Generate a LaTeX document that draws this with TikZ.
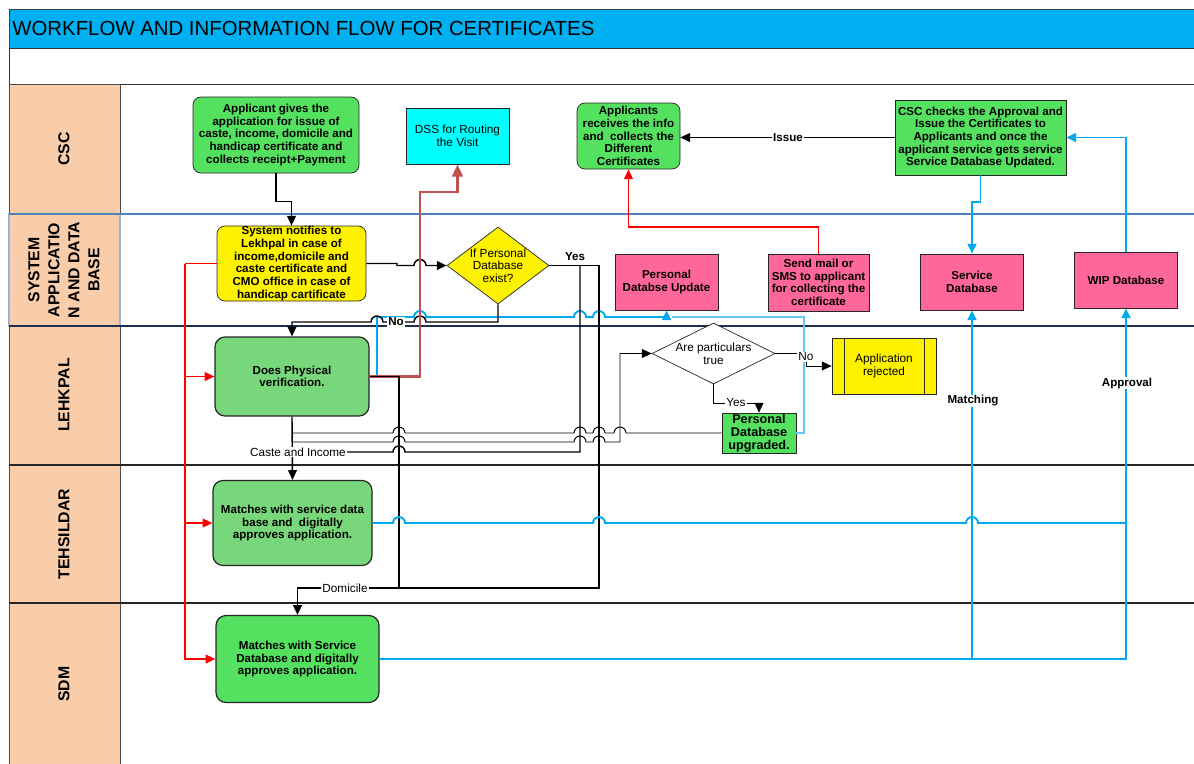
\documentclass[tikz,border=0pt]{standalone}
\usepackage{fontspec}
\setmainfont{Liberation Sans}
\usepackage{tikz}
\usetikzlibrary{shapes.geometric,arrows.meta,positioning}

\definecolor{titlecyan}{RGB}{0,176,240}
\definecolor{lanepeach}{RGB}{249,204,170}
\definecolor{brightgreen}{RGB}{84,225,96}
\definecolor{softgreen}{RGB}{121,215,123}
\definecolor{dbpink}{RGB}{255,102,153}
\definecolor{dsscyan}{RGB}{0,255,255}
\definecolor{flowcyan}{RGB}{0,170,240}
\definecolor{paleflow}{RGB}{100,200,245}
\definecolor{routered}{RGB}{192,80,77}
\definecolor{laneblue}{RGB}{79,129,189}
\definecolor{lanenavy}{RGB}{31,45,80}

\def \px {0.02cm}
\def \hr {0.12cm}
\newcommand{\boxfont}{\fontsize{6.6}{7.2}\selectfont\bfseries}
\newcommand{\plainfont}{\fontsize{6.7}{7.2}\selectfont}
\newcommand{\lanefont}{\fontsize{9}{11.4}\selectfont\bfseries}
\newcommand{\hopr}[2]{-- (#1-6,#2) arc[start angle=180,end angle=0,radius=\hr]}
\newcommand{\hopl}[2]{-- (#1+6,#2) arc[start angle=0,end angle=180,radius=\hr]}

\tikzstyle{box} = [draw=black!85,align=center,inner sep=0,font=\boxfont]
\tikzstyle{greenround} = [box,fill=brightgreen,rounded corners=.16cm]
\tikzstyle{softround} = [box,fill=softgreen,rounded corners=.2cm,line width=0.7pt]
\tikzstyle{greenrect} = [box,fill=brightgreen]
\tikzstyle{dbbox} = [box,fill=dbpink]
\tikzstyle{decision} = [draw=black!85,diamond,inner sep=0]
\tikzstyle{lanetext} = [rotate=90,align=center,font=\lanefont]
\tikzstyle{tip} = [-{Triangle[length=5.5pt,width=5pt]}]
\tikzstyle{flowline} = [tip,line width=0.8pt]
\tikzstyle{blackline} = [line width=0.8pt]
\tikzstyle{thinline} = [line width=0.55pt]
\tikzstyle{cyanline} = [draw=flowcyan,line width=1.1pt]
\tikzstyle{paleline} = [draw=paleflow,line width=0.8pt]
\tikzstyle{alertline} = [draw=red,line width=0.7pt]
\tikzstyle{routeline} = [draw=routered,line width=1.7pt]
\tikzstyle{tag} = [fill=white,inner sep=0.6pt,font=\plainfont]
\tikzstyle{boldtag} = [fill=white,inner sep=0.6pt,font=\boxfont]

\begin{document}
\begin{tikzpicture}[x=\px,y=-\px]
      \useasboundingbox (0,0) rectangle (1194,764);
      \draw[black!75,fill=titlecyan] (9,9) rectangle (1194,48);
      \node[anchor=west,inner sep=0,font=\fontsize{11.6}{14}\selectfont] (title) at (12,28.5) {WORKFLOW AND INFORMATION FLOW FOR CERTIFICATES};
      \draw[black!80] (9,48) rectangle (1194,84);
      \draw[black!70,fill=lanepeach] (9,84) rectangle (120,764);
      \draw[laneblue!60,line width=0.7pt] (9,214) rectangle (120,326);
      \draw[laneblue,line width=0.7pt] (9,214) -- (1194,214);
      \draw[lanenavy,line width=0.7pt] (9,326) -- (1194,326);
      \draw[black!85,line width=0.7pt] (9,465) -- (1194,465);
      \draw[black!85,line width=0.7pt] (9,603) -- (1194,603);
      \node[lanetext] (lcsc) at (64,149) {CSC};
      \node[lanetext] (lsys) at (64,270) {SYSTEM\\APPLICATIO\\N AND DATA\\BASE};
      \node[lanetext] (llek) at (64,395) {LEHKPAL};
      \node[lanetext] (lteh) at (64,534) {TEHSILDAR};
      \node[lanetext] (lsdm) at (64,684) {SDM};

      \node[greenround,minimum width=166*\px,minimum height=76*\px] (app) at (276,135) {Applicant gives the\\application for issue of\\caste, income, domicile and\\handicap certificate and\\collects receipt+Payment};
      \node[box,fill=dsscyan,font=\plainfont,minimum width=103*\px,minimum height=56*\px] (dss) at (457.5,136) {DSS for Routing\\the Visit};
      \node[greenround,minimum width=103*\px,minimum height=66*\px] (recv) at (628.5,136) {Applicants\\receives the info\\and\ \ collects the\\Different\\Certificates};
      \node[greenrect,minimum width=171*\px,minimum height=75*\px] (csck) at (980.5,137.5) {CSC checks the Approval and\\Issue the Certificates to\\Applicants and once the\\applicant service gets service\\Service Database Updated.};
      \node[box,fill=yellow,rounded corners=.16cm,minimum width=149*\px,minimum height=75*\px] (sysn) at (291.5,263.5) {System notifies to\\Lekhpal in case of\\income,domicile and\\caste certificate and\\CMO office in case of\\handicap cartificate};
      \node[decision,fill=yellow,minimum width=102*\px,minimum height=77*\px,label={[font=\plainfont,align=center]center:{If Personal\\Database\\exist?}}] (dec1) at (498,265.5) {};
      \node[dbbox,minimum width=103*\px,minimum height=56*\px] (pdu) at (666.5,282) {Personal\\Databse Update};
      \node[dbbox,minimum width=101*\px,minimum height=57*\px] (mail) at (818.5,282.5) {Send mail or\\SMS to applicant\\for collecting the\\certificate};
      \node[dbbox,minimum width=103*\px,minimum height=56*\px] (servdb) at (972,282) {Service\\Database};
      \node[dbbox,minimum width=103*\px,minimum height=56*\px] (wipdb) at (1126,280) {WIP Database};
      \node[softround,minimum width=154*\px,minimum height=79*\px] (phys) at (292,376.5) {Does Physical\\verification.};
      \node[decision,fill=white,minimum width=123*\px,minimum height=61*\px,label={[font=\plainfont,align=center]center:{Are particulars\\true}}] (dec2) at (713.5,353.5) {};
      \node[box,fill=yellow,font=\plainfont,minimum width=104*\px,minimum height=56*\px] (rej) at (884,366) {Application\\rejected};
      \draw[black!85] ([xshift=13*\px]rej.north west) -- ([xshift=13*\px]rej.south west);
      \draw[black!85] ([xshift=-12*\px]rej.north east) -- ([xshift=-12*\px]rej.south east);
      \node[greenrect,font=\fontsize{7.2}{7.3}\selectfont\bfseries,minimum width=74*\px,minimum height=40*\px] (pdbup) at (759,433) {Personal\\Database\\upgraded.};
      \node[softround,minimum width=159*\px,minimum height=85*\px] (teh) at (292.5,523) {Matches with service data\\base and\ \ digitally\\approves application.};
      \node[greenround,rounded corners=.2cm,line width=0.7pt,minimum width=163*\px,minimum height=87*\px] (sdm) at (297.5,659) {Matches with Service\\Database and digitally\\approves application.};

      \draw[flowline] (app.south) -- ++(0,28) -| (sysn.north);
      \draw[flowline] (sysn.east) -- (397,263.5) -- (397,265.5) \hopr{420}{265.5} -- (dec1.west);
      \draw[alertline] (sysn.west) -- (185,263.5) coordinate (rsplit);
      \draw[alertline,tip] (rsplit) |- (phys.west);
      \draw[alertline,tip] (rsplit) |- (teh.west);
      \draw[alertline,tip] (rsplit) |- (sdm.west);
      \draw[cyanline,tip] (phys.east) -- (377,376.5) -- (377,317) \hopr{420}{317} \hopr{580}{317} \hopr{599}{317} -- (666.5,317) -- (pdu.south);
      \draw[paleline] (pdbup.east) -| (804,317) -- (672,317);
      \draw[flowline] (dec1.south) -- (498,322) \hopl{420}{322} \hopl{377}{322} -| (phys.north);
      \node[boldtag] (nolbl) at (396,322) {No};
      \draw[routeline,-{Triangle[length=7pt,width=6pt]}] (phys.east) -| (420,192) -| (dss.south);
      \draw[blackline] (dec1.east) -- (599,265.5) -- (599,588) -- (399,588);
      \draw[blackline] (580,265.5) -- (580,452) \hopl{399}{452} -- (292,452);
      \draw[flowline] (phys.east) -| (399,588) -- (297.5,588) -- (sdm.north);
      \draw[flowline] (phys.south) -- (teh.north);
      \draw[thinline] (292,433) \hopr{399}{433} \hopr{580}{433} \hopr{599}{433} \hopr{620}{433} -- (pdbup.west);
      \draw[thinline,tip] (292,442) \hopr{399}{442} \hopr{580}{442} \hopr{599}{442} -- (620,442) |- (dec2.west);
      \node[tag] (castelbl) at (298,452) {Caste and Income};
      \node[tag] (domlbl) at (345,588) {Domicile};
      \node[boldtag] (yeslbl) at (575,257) {Yes};
      \draw[thinline,tip] (dec2.east) -- (806,353.5) -- (806,366) -- (rej.west);
      \node[tag] (nolbl2) at (806,357) {No};
      \draw[thinline,tip] (dec2.south) -- (713.5,403) -| (pdbup.north);
      \node[tag] (yeslbl2) at (736,403) {Yes};
      \draw[alertline,tip] (mail.north) -- (818.5,227) -| (recv.south);
      \draw[flowline] (csck.west) -- (csck.west -| recv.east);
      \node[boldtag] (issuelbl) at (788,137.5) {Issue};
      \draw[cyanline,tip] (csck.south) -- ++(0,27) -| (servdb.north);
      \draw[cyanline,tip] (wipdb.north) |- (csck.east);
      \draw[cyanline,tip] (teh.east) \hopr{399}{523} \hopr{599}{523} \hopr{972}{523} -- (1126,523) -- (wipdb.south);
      \draw[cyanline,tip] (sdm.east) -- (972,659) -- (servdb.south);
      \draw[cyanline] (972,659) -- (1126,659) -- (1126,523);
      \node[boldtag] (matchlbl) at (973,401) {Matching};
      \node[boldtag] (apprlbl) at (1127,383) {Approval};
    \end{tikzpicture}
\end{document}
